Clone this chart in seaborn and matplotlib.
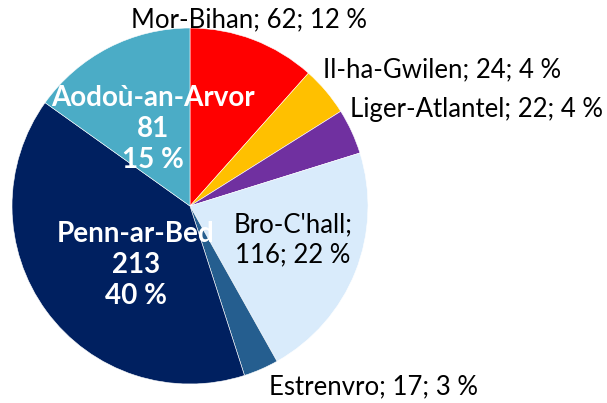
import numpy as np
import matplotlib
matplotlib.use("Agg")
import matplotlib.pyplot as plt
import seaborn as sns

# data
regions = ["Mor-Bihan", "Il-ha-Gwilen", "Liger-Atlantel", "Bro-C'hall",
           "Estrenvro", "Penn-ar-Bed", "Aodoù-an-Arvor"]
counts = [62, 24, 22, 116, 17, 213, 81]
colors = ["#FF0000", "#FFC000", "#7030A0", "#D9EBFB",
          "#255E8F", "#002060", "#4BACC6"]

# label placement: radius factor, angle nudge (deg), alignment, style
label_r = [1.096, 1.07, 1.05, 0.61, 1.11, 0.45, 0.48]
label_nudge = [3.3, 5.4, 6.3, 3.4, 0.0, 11.4, -1.5]
label_ha = ["center", "left", "left", "center", "left", "center", "center"]
label_kind = ["outer", "outer", "outer", "inner", "outer", "bold", "bold"]

sns.set_theme(style="white")
plt.rcParams["font.family"] = ["Lato", "DejaVu Sans"]

fig = plt.figure(figsize=(6.07, 4.03), dpi=100)
W, H = 607, 403
cx, cy, R = 190, 206, 178
ax = fig.add_axes([(cx - R) / W, (H - cy - R) / H, 2 * R / W, 2 * R / H])

wedges, _ = ax.pie(counts, colors=colors, startangle=90, counterclock=False,
                   radius=1, wedgeprops=dict(edgecolor="white", linewidth=0.4))
ax.set_xlim(-1, 1)
ax.set_ylim(-1, 1)
ax.set_aspect("equal")
ax.axis("off")

total = sum(counts)
for w, name, n, r, nudge, ha, kind in zip(wedges, regions, counts, label_r,
                                          label_nudge, label_ha, label_kind):
    pct = round(100 * n / total)
    mid = np.deg2rad((w.theta1 + w.theta2) / 2 + nudge)
    x, y = r * np.cos(mid), r * np.sin(mid)
    if kind == "bold":
        ax.text(x, y, f"{name}\n{n}\n{pct} %", ha="center", va="center",
                color="white", fontsize=20, fontweight="bold",
                linespacing=1.25, clip_on=False)
    elif kind == "inner":
        ax.text(x, y, f"{name};\n{n}; {pct} %", ha="center", va="center",
                color="black", fontsize=18.5, linespacing=1.25, clip_on=False)
    else:
        ax.text(x, y, f"{name}; {n}; {pct} %", ha=ha, va="center",
                color="black", fontsize=18.5, clip_on=False)

fig.savefig("out.png", dpi=100)
